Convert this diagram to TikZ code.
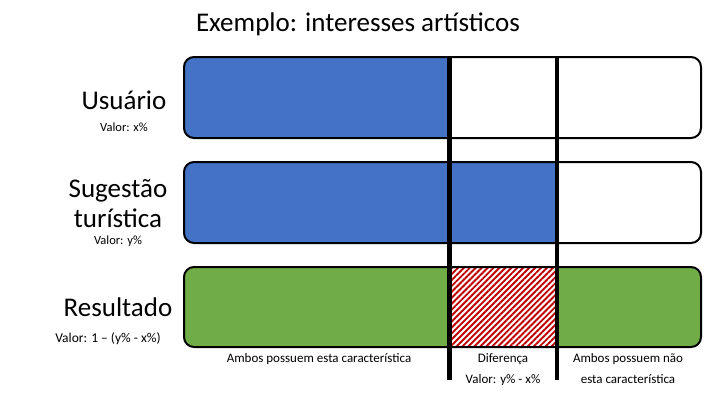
\documentclass[tikz,border=0pt]{standalone}
\usepackage{fontspec}
\setmainfont{Carlito}
\usetikzlibrary{patterns.meta}
\definecolor{barblue}{HTML}{4472C4}
\definecolor{bargreen}{HTML}{70AD47}
\definecolor{hatchred}{HTML}{C00000}
\tikzset{
  barbox/.style={draw=black, line width=2pt, rounded corners=10pt},
  divider/.style={line width=4.5pt, black},
  bigtext/.style={font=\fontsize{27}{30}\selectfont, inner sep=0pt, anchor=base},
  smalltext/.style={font=\fontsize{12.5}{14}\selectfont, inner sep=0pt, anchor=base},
  labeltext/.style={font=\fontsize{13}{15}\selectfont, inner sep=0pt, anchor=base, align=center}
}
\begin{document}
\begin{tikzpicture}[x=1pt,y=-1pt]
\useasboundingbox (0,0) rectangle (720,405);
% Box 1
\begin{scope}
  \clip[rounded corners=10pt] (184,57) rectangle (701,138);
  \fill[barblue] (184,57) rectangle (449.5,138);
\end{scope}
\draw[barbox] (184,57) rectangle (701,138);
% Box 2
\begin{scope}
  \clip[rounded corners=10pt] (184,162) rectangle (701,243);
  \fill[barblue] (184,162) rectangle (557,243);
\end{scope}
\draw[barbox] (184,162) rectangle (701,243);
% Box 3
\begin{scope}
  \clip[rounded corners=10pt] (184,267) rectangle (701,347);
  \fill[bargreen] (184,267) rectangle (701,347);
  \fill[white] (449.5,267) rectangle (557,347);
  \fill[pattern={Lines[angle=45,distance=4.2pt,line width=1.9pt]}, pattern color=hatchred] (449.5,267) rectangle (557,347);
\end{scope}
\draw[barbox] (184,267) rectangle (701,347);
% Dividers
\coordinate (d1t) at (449.5,56);
\coordinate (d1b) at (449.5,380);
\coordinate (d2t) at (557,56);
\coordinate (d2b) at (557,380);
\draw[divider] (d1t) -- (d1b);
\draw[divider] (d2t) -- (d2b);
% Texts
\node[bigtext] (title) at (358,31) {Exemplo: interesses artísticos};
\node[bigtext] (usr) at (124,109) {Usuário};
\node[smalltext] (usrv) at (124,131) {Valor: x\%};
\node[bigtext] (sug1) at (118,197) {Sugestão};
\node[bigtext] (sug2) at (118,227) {turística};
\node[smalltext] (sugv) at (118,244) {Valor: y\%};
\node[bigtext] (res) at (118,316) {Resultado};
\node[smalltext, font=\fontsize{13.5}{15}\selectfont] (resv) at (108,342) {Valor: 1 – (y\% - x\%)};
\node[labeltext] (l1) at (319,362) {Ambos possuem esta característica};
\node[labeltext] (l2) at (503,362) {Diferença};
\node[labeltext] (l2b) at (503,383) {Valor: y\% - x\%};
\node[labeltext] (l3) at (628,362) {Ambos possuem não};
\node[labeltext] (l3b) at (628,383) {esta característica};
\end{tikzpicture}
\end{document}
